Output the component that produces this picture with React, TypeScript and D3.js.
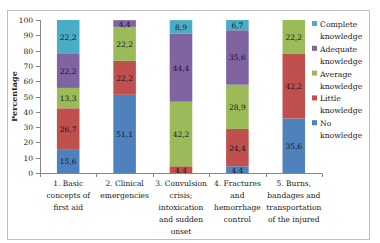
import React from "react";
import * as d3 from "d3";

const categories = [
  ["1. Basic", "concepts of", "first aid"],
  ["2. Clinical", "emergencies"],
  ["3. Convulsion", "crisis;", "intoxication", "and sudden", "onset"],
  ["4. Fractures", "and", "hemorrhage", "control"],
  ["5. Burns,", "bandages and", "transportation", "of the injured"],
];
const seriesNames = ["No knowledge", "Little knowledge", "Average knowledge", "Adequate knowledge", "Complete knowledge"];
const legendLines = [["No", "knowledge"], ["Little", "knowledge"], ["Average", "knowledge"], ["Adequate", "knowledge"], ["Complete", "knowledge"]];
const noKnowledge = [15.6, 51.1, 0, 4.4, 35.6];
const littleKnowledge = [26.7, 22.2, 4.4, 24.4, 42.2];
const averageKnowledge = [13.3, 22.2, 42.2, 28.9, 22.2];
const adequateKnowledge = [22.2, 4.4, 44.4, 35.6, 0];
const completeKnowledge = [22.2, 0, 8.9, 6.7, 0];
const yTicks = [0, 10, 20, 30, 40, 50, 60, 70, 80, 90, 100];
const colors = ["#4F81BD", "#C0504D", "#9BBB59", "#8064A2", "#4BACC6"];

export default function App() {
  const series = [noKnowledge, littleKnowledge, averageKnowledge, adequateKnowledge, completeKnowledge];
  const x = d3.scaleBand<number>().domain(d3.range(categories.length)).range([40, 322]).paddingInner(0.6).paddingOuter(0.3);
  const y = d3.scaleLinear().domain([0, 100]).range([173, 20]);
  const font = "'DejaVu Serif', serif";
  const step = x.step();

  const bars: React.ReactNode[] = [];
  categories.forEach((_, i) => {
    let base = 0;
    series.forEach((s, k) => {
      const v = s[i];
      if (v > 0) {
        const y0 = y(base), y1 = y(base + v);
        bars.push(
          <rect key={`r${i}-${k}`} x={x(i)} y={y1} width={x.bandwidth()} height={y0 - y1} fill={colors[k]} />
        );
        bars.push(
          <text key={`t${i}-${k}`} x={(x(i) as number) + x.bandwidth() / 2} y={(y0 + y1) / 2 + 3} textAnchor="middle" fontSize={7.5} fill="#111122">
            {v.toFixed(1).replace(".", ",")}
          </text>
        );
      }
      base += v;
    });
  });

  return (
    <svg width={380} height={243} style={{ position: "absolute", left: 0, top: 0, fontFamily: font }}>
      <rect x={7.5} y={10.5} width={362} height={229} fill="#fff" stroke="#BFBFBF" />
      {bars}
      <line x1={40.5} x2={40.5} y1={y(100)} y2={y(0)} stroke="#868686" />
      {yTicks.map((t) => (
        <g key={t}>
          <line x1={36} x2={40.5} y1={Math.round(y(t)) + 0.5} y2={Math.round(y(t)) + 0.5} stroke="#868686" />
          <text x={33} y={y(t) + 3} textAnchor="end" fontSize={7.5} fill="#222">{t}</text>
        </g>
      ))}
      <line x1={40} x2={322} y1={173.5} y2={173.5} stroke="#868686" />
      {d3.range(categories.length + 1).map((i) => (
        <line key={i} x1={Math.round(40 + i * step) + 0.5} x2={Math.round(40 + i * step) + 0.5} y1={173.5} y2={177} stroke="#868686" />
      ))}
      {categories.map((lines, i) => (
        <text key={i} textAnchor="middle" fontSize={7.5} fill="#222">
          {lines.map((l, j) => (
            <tspan key={j} x={(x(i) as number) + x.bandwidth() / 2} y={186 + j * 12}>{l}</tspan>
          ))}
        </text>
      ))}
      <text transform={`translate(17,${(y(0) + y(100)) / 2}) rotate(-90)`} textAnchor="middle" fontSize={8} fontWeight="bold" fill="#222">Percentage</text>
      {legendLines.slice().reverse().map((lines, idx) => {
        const k = seriesNames.length - 1 - idx;
        const ly = 27 + idx * 24.8;
        return (
          <g key={k}>
            <rect x={312} y={ly - 6} width={5} height={5} fill={colors[k]} />
            <text fontSize={7.7} fill="#222">
              <tspan x={320} y={ly}>{lines[0]}</tspan>
              <tspan x={320} y={ly + 12}>{lines[1]}</tspan>
            </text>
          </g>
        );
      })}
    </svg>
  );
}
